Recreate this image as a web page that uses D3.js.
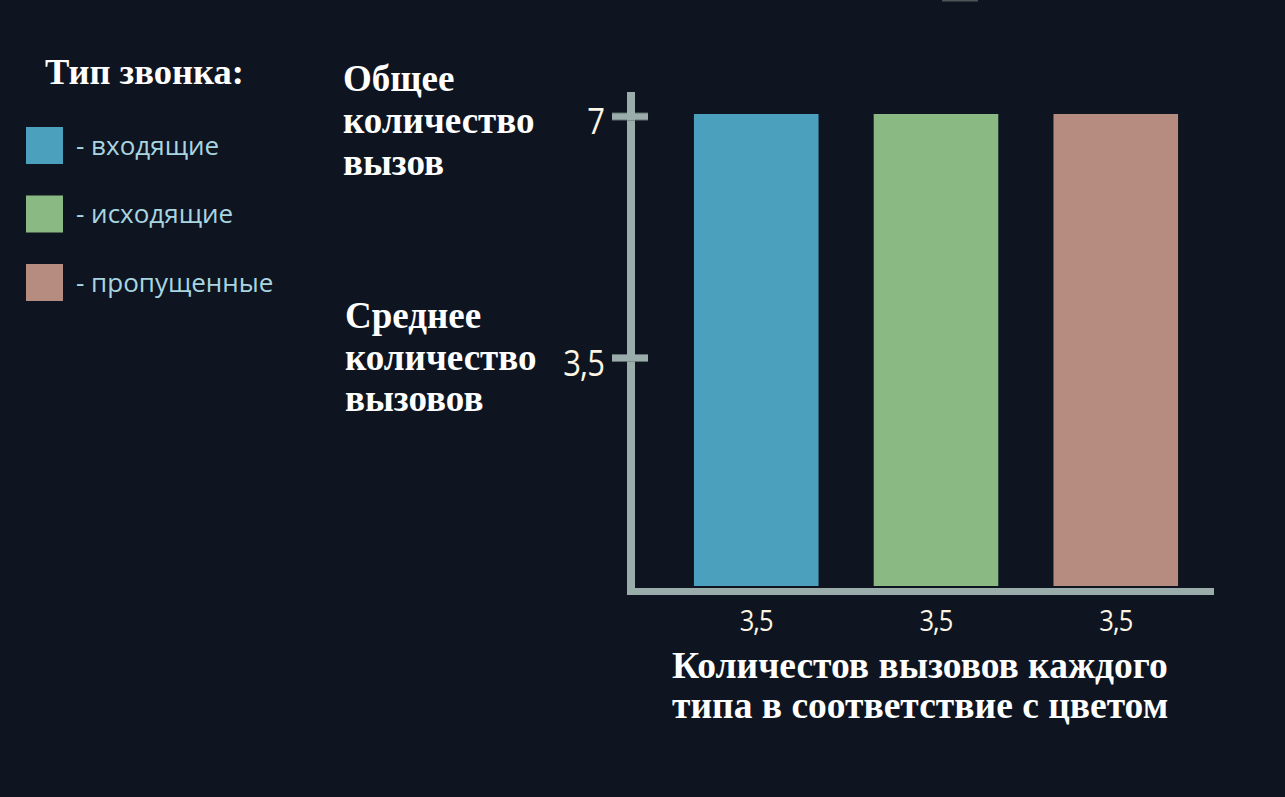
<!DOCTYPE html>
<html>
<head>
<meta charset="utf-8">
<script src="https://cdn.jsdelivr.net/npm/d3@7"></script>
<style>
  html, body { margin: 0; padding: 0; background: #0e1520; }
  svg { display: block; }
</style>
</head>
<body>
<svg id="chart" width="1285" height="797"></svg>
<script>
// ---- data ----
const categories = ["входящие", "исходящие", "пропущенные"];
const values = [7, 7, 7];
const xTickLabels = ["3,5", "3,5", "3,5"];
const yTicks = [3.5, 7];
const yTickLabels = ["3,5", "7"];
const colors = ["#4aa0bd", "#8bb983", "#b68b80"];
const legendTitle = "Тип звонка:";
const legendLabels = ["- входящие", "- исходящие", "- пропущенные"];
const yTitleTop = ["Общее", "количество", "вызов"];
const yTitleMid = ["Среднее", "количество", "вызовов"];
const xTitle = ["Количестов вызовов каждого", "типа в соответствие с цветом"];

// ---- layout ----
const svg = d3.select("#chart");
const W = 1285, H = 797;
svg.append("rect").attr("width", W).attr("height", H).attr("fill", "#0e1520");
svg.append("rect").attr("x", 942).attr("y", 0).attr("width", 36).attr("height", 1.5).attr("fill", "#4d5458");

const axisColor = "#9aadaa";
const axisX = 631;       // centre of vertical axis line
const axisY = 591;       // centre of horizontal axis line
const serif = "'Liberation Serif', 'Times New Roman', serif";
const sans = "'Open Sans', 'Noto Sans', sans-serif";

const y = d3.scaleLinear().domain([0, 7]).range([599, 116]);
const x = d3.scaleBand().domain(categories).range([658, 1214]).paddingInner(0.307).paddingOuter(0.2);

// bars
svg.append("g").selectAll("rect").data(categories).join("rect")
  .attr("x", d => x(d))
  .attr("width", x.bandwidth())
  .attr("y", (d, i) => y(values[i]) - 2)
  .attr("height", (d, i) => (axisY - 5) - (y(values[i]) - 2))
  .attr("fill", (d, i) => colors[i]);

// axis lines
svg.append("rect").attr("x", axisX - 4).attr("y", 92).attr("width", 8).attr("height", axisY + 4 - 92).attr("fill", axisColor);
svg.append("rect").attr("x", axisX - 4).attr("y", axisY - 3).attr("width", 1214 - (axisX - 4)).attr("height", 7).attr("fill", axisColor);

// y ticks via d3 axis
const yAxis = d3.axisLeft(y).tickValues(yTicks).tickSize(0).tickFormat((d, i) => yTickLabels[i]);
const gy = svg.append("g").attr("transform", `translate(${604},0)`).call(yAxis);
gy.select(".domain").remove();
gy.selectAll(".tick text")
  .attr("x", 0).attr("dy", "0.32em").attr("y", 6)
  .attr("transform", "scale(0.86,1)")
  .attr("fill", "#fdf5e4")
  .style("font-family", sans).style("font-size", "36px").attr("letter-spacing", "-1");
gy.selectAll(".tick").append("rect")
  .attr("x", 612 - 604).attr("y", -4).attr("width", 36).attr("height", 8)
  .attr("fill", "#5f6f70");
gy.selectAll(".tick").append("rect")
  .attr("x", 612 - 604).attr("y", -3).attr("width", 36).attr("height", 6)
  .attr("fill", axisColor);
// redraw vertical line segment over tick crossings
svg.append("g").selectAll("rect").data(yTicks).join("rect")
  .attr("x", axisX - 4).attr("y", d => y(d) - 4).attr("width", 8).attr("height", 8).attr("fill", axisColor);

// x tick labels via d3 axis
const xAxis = d3.axisBottom(x).tickSize(0).tickFormat((d, i) => xTickLabels[i]);
const gx = svg.append("g").attr("transform", `translate(0,${axisY})`).call(xAxis);
gx.select(".domain").remove();
gx.selectAll(".tick text")
  .attr("y", 40).attr("dy", 0)
  .attr("transform", "scale(0.85,1)")
  .attr("fill", "#fdf5e4")
  .style("font-family", sans).style("font-size", "30px").attr("letter-spacing", "-1");

// legend
svg.append("text").attr("x", 45).attr("y", 84).text(legendTitle)
  .attr("fill", "#ffffff").style("font-family", serif).style("font-weight", "bold").style("font-size", "36.5px");
const lg = svg.append("g").selectAll("g").data(legendLabels).join("g")
  .attr("transform", (d, i) => `translate(26,${127 + i * 68.5})`);
lg.append("rect").attr("width", 37).attr("height", 37).attr("fill", (d, i) => colors[i]);
lg.append("text").attr("x", 50).attr("y", 18.5).attr("dy", "0.35em").text(d => d)
  .attr("fill", "#a8d5e0").style("font-family", sans).style("font-size", "26px");

// y titles
function multiline(lines, x0, y0, lh, fs) {
  const t = svg.append("text").attr("x", x0).attr("y", y0)
    .attr("fill", "#ffffff").style("font-family", serif).style("font-weight", "bold").style("font-size", fs + "px");
  t.selectAll("tspan").data(lines).join("tspan")
    .attr("x", x0).attr("dy", (d, i) => i === 0 ? 0 : lh).text(d => d);
}
multiline(yTitleTop, 343, 91, 42, 37);
multiline(yTitleMid, 345, 328, 41.5, 37);
multiline(xTitle, 672, 678, 40, 37.5);
</script>
</body>
</html>
